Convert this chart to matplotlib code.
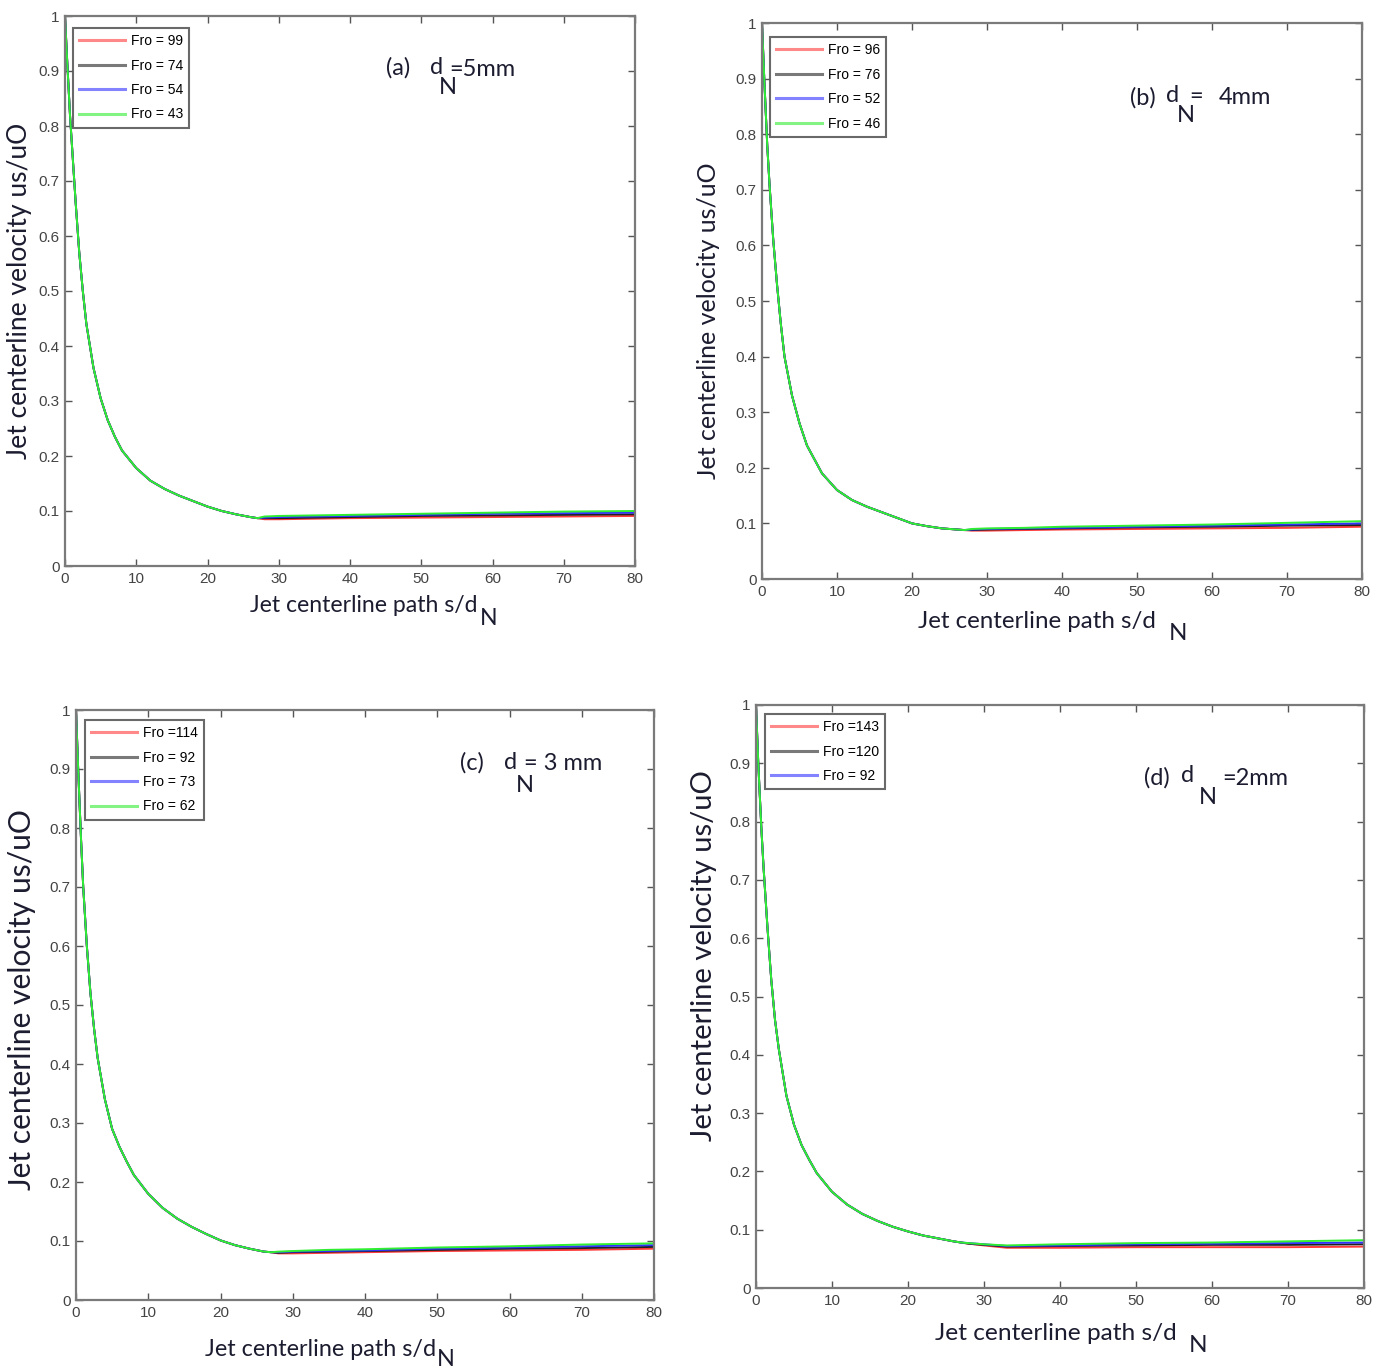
import matplotlib
matplotlib.use("Agg")
import matplotlib.pyplot as plt

W, H = 1381, 1371

# ---------------- data ----------------
s_decay = [0, 0.3, 0.7, 1, 1.5, 2, 2.5, 3, 4, 5, 6, 7, 8, 10, 12, 14, 16, 18, 20, 22, 24, 26, 27]
s_tail = [28, 30, 35, 40, 50, 60, 70, 80]
s_tail_d = [28, 30, 33, 40, 50, 60, 70, 80]

decay_a = [1.0, 0.92, 0.82, 0.76, 0.66, 0.57, 0.50, 0.44, 0.36, 0.305, 0.265, 0.235, 0.21, 0.178,
           0.155, 0.14, 0.128, 0.118, 0.108, 0.100, 0.094, 0.089, 0.087]
decay_b = [1.0, 0.90, 0.78, 0.71, 0.61, 0.53, 0.46, 0.40, 0.33, 0.28, 0.24, 0.215, 0.19, 0.16,
           0.142, 0.13, 0.12, 0.11, 0.10, 0.095, 0.091, 0.089, 0.088]
decay_c = [1.0, 0.90, 0.78, 0.70, 0.60, 0.52, 0.46, 0.41, 0.34, 0.29, 0.26, 0.235, 0.212, 0.18,
           0.156, 0.138, 0.124, 0.112, 0.101, 0.093, 0.087, 0.082, 0.081]
decay_d = [1.0, 0.90, 0.79, 0.72, 0.62, 0.53, 0.46, 0.41, 0.33, 0.28, 0.245, 0.22, 0.197, 0.165,
           0.143, 0.127, 0.115, 0.105, 0.097, 0.090, 0.085, 0.080, 0.078]

tail_a = {
    "red":   [0.085, 0.085, 0.086, 0.087, 0.088, 0.089, 0.090, 0.091],
    "black": [0.087, 0.087, 0.088, 0.089, 0.091, 0.092, 0.093, 0.094],
    "blue":  [0.088, 0.089, 0.090, 0.091, 0.093, 0.095, 0.096, 0.097],
    "green": [0.090, 0.091, 0.092, 0.093, 0.095, 0.097, 0.099, 0.100],
}
tail_b = {
    "red":   [0.087, 0.087, 0.088, 0.089, 0.090, 0.091, 0.092, 0.094],
    "black": [0.088, 0.089, 0.090, 0.091, 0.093, 0.094, 0.096, 0.097],
    "blue":  [0.089, 0.090, 0.091, 0.092, 0.094, 0.096, 0.098, 0.100],
    "green": [0.090, 0.091, 0.092, 0.094, 0.096, 0.098, 0.101, 0.104],
}
tail_c = {
    "red":   [0.079, 0.079, 0.080, 0.081, 0.083, 0.084, 0.085, 0.087],
    "black": [0.080, 0.081, 0.082, 0.083, 0.085, 0.087, 0.088, 0.090],
    "blue":  [0.081, 0.082, 0.083, 0.084, 0.087, 0.089, 0.091, 0.093],
    "green": [0.082, 0.083, 0.085, 0.086, 0.089, 0.091, 0.094, 0.096],
}
tail_d = {
    "red":   [0.076, 0.073, 0.069, 0.069, 0.070, 0.070, 0.070, 0.071],
    "black": [0.076, 0.074, 0.071, 0.072, 0.073, 0.074, 0.074, 0.075],
    "blue":  [0.077, 0.075, 0.072, 0.073, 0.075, 0.076, 0.077, 0.078],
    "green": [0.077, 0.075, 0.073, 0.075, 0.077, 0.078, 0.080, 0.082],
}

labels_a = ["Fro = 99", "Fro = 74", "Fro = 54", "Fro = 43"]
labels_b = ["Fro = 96", "Fro = 76", "Fro = 52", "Fro = 46"]
labels_c = ["Fro =114", "Fro = 92", "Fro = 73", "Fro = 62"]
labels_d = ["Fro =143", "Fro =120", "Fro = 92", None]

x_ticks = [0, 10, 20, 30, 40, 50, 60, 70, 80]
y_ticks = [0, 0.1, 0.2, 0.3, 0.4, 0.5, 0.6, 0.7, 0.8, 0.9, 1]
y_ticklabels = ["0", "0.1", "0.2", "0.3", "0.4", "0.5", "0.6", "0.7", "0.8", "0.9", "1"]

colors = {"red": "#ff3a3a", "black": "#202020", "blue": "#3030ff", "green": "#30ee30"}
series_order = ["red", "black", "blue", "green"]

# ---------------- layout (pixel boxes) ----------------
panels = [
    dict(box=(65, 16, 635, 566), decay=decay_a, tail=tail_a, stail=s_tail, labels=labels_a,
         leg=(73, 28),
         ylab=(20, 291, 19), xlab=(250, 606, 16.6), xN=(489, 618),
         ann=[("(a)", 398, 68, "center"), ("d", 437, 68, "center"), ("=5mm", 482, 69, "center"),
              ("N", 448, 88, "center")]),
    dict(box=(762, 23, 1362, 579), decay=decay_b, tail=tail_b, stail=s_tail, labels=labels_b,
         leg=(770, 37),
         ylab=(709, 321, 18), xlab=(918, 622, 17.4), xN=(1178, 633),
         ann=[("(b)", 1143, 98, "center"), ("d", 1173, 96, "center"), ("=", 1196, 97, "center"),
              ("4mm", 1245, 97, "center"), ("N", 1186, 115, "center")]),
    dict(box=(76, 710, 654, 1300), decay=decay_c, tail=tail_c, stail=s_tail, labels=labels_c,
         leg=(85, 720),
         ylab=(22, 1000, 21.6), xlab=(205, 1349, 16.8), xN=(446, 1360),
         ann=[("(c)", 472, 763, "center"), ("d", 511, 762, "center"), ("= 3 mm", 524, 763, "left"),
              ("N", 525, 785, "center")]),
    dict(box=(756, 705, 1364, 1288), decay=decay_d, tail=tail_d, stail=s_tail_d, labels=labels_d,
         leg=(765, 714),
         ylab=(704, 956, 21), xlab=(935, 1333, 17.6), xN=(1198, 1345),
         ann=[("(d)", 1157, 778, "center"), ("d", 1188, 776, "center"), ("=2mm", 1255, 778, "center"),
              ("N", 1208, 797, "center")]),
]

label_font = ["Lato", "DejaVu Sans"]
tick_font = ["Liberation Sans Narrow", "Liberation Sans", "DejaVu Sans"]
text_color = "#1c1c30"

fig = plt.figure(figsize=(W / 100, H / 100), dpi=100)
fig.patch.set_facecolor("white")


def fx(x):
    return x / W


def fy(y):
    return 1 - y / H


for p in panels:
    x0, y0, x1, y1 = p["box"]
    ax = fig.add_axes([fx(x0), fy(y1), (x1 - x0) / W, (y1 - y0) / H])
    for key, lab in zip(series_order, p["labels"]):
        xs = list(s_decay) + list(p["stail"])
        ys = list(p["decay"]) + list(p["tail"][key])
        ax.plot(xs, ys, color=colors[key], lw=1.4, label=lab if lab else "_nolegend_")
    ax.set_xlim(0, 80)
    ax.set_ylim(0, 1)
    ax.set_xticks(x_ticks)
    ax.set_yticks(y_ticks)
    ax.set_yticklabels(y_ticklabels)
    ax.tick_params(direction="in", top=True, right=True, length=5, width=1.0,
                   colors="#555555", labelcolor="#444444", labelsize=11, pad=4)
    for lbl in ax.get_xticklabels() + ax.get_yticklabels():
        lbl.set_family(tick_font)
    for sp in ax.spines.values():
        sp.set_color("#7a7a7a")
        sp.set_linewidth(1.6)

    lx, ly = p["leg"]
    leg = ax.legend(loc="upper left", bbox_to_anchor=(fx(lx), fy(ly)),
                    bbox_transform=fig.transFigure, frameon=True, fancybox=False,
                    prop=dict(family=tick_font, size=10), handlelength=3.3,
                    handletextpad=0.4, labelspacing=0.75, borderpad=0.45,
                    borderaxespad=0)
    leg.get_frame().set_edgecolor("#444444")
    leg.get_frame().set_linewidth(1.5)
    for h in leg.get_lines():
        h.set_linewidth(2.2)
        h.set_alpha(0.6)

    # axis labels
    yx, yy, ys_ = p["ylab"]
    fig.text(fx(yx), fy(yy), "Jet centerline velocity us/uO", rotation=90,
             ha="center", va="center", fontsize=ys_, family=label_font, color=text_color)
    xx, xy, xs_ = p["xlab"]
    fig.text(fx(xx), fy(xy), "Jet centerline path s/d", ha="left", va="center",
             fontsize=xs_, family=label_font, color=text_color)
    nx, ny = p["xN"]
    fig.text(fx(nx), fy(ny), "N", ha="center", va="center",
             fontsize=xs_, family=label_font, color=text_color)

    for txt, tx, ty, ha in p["ann"]:
        fig.text(fx(tx), fy(ty), txt, ha=ha, va="center", fontsize=17,
                 family=label_font, color=text_color)

fig.savefig("out.png", dpi=100, facecolor="white")
